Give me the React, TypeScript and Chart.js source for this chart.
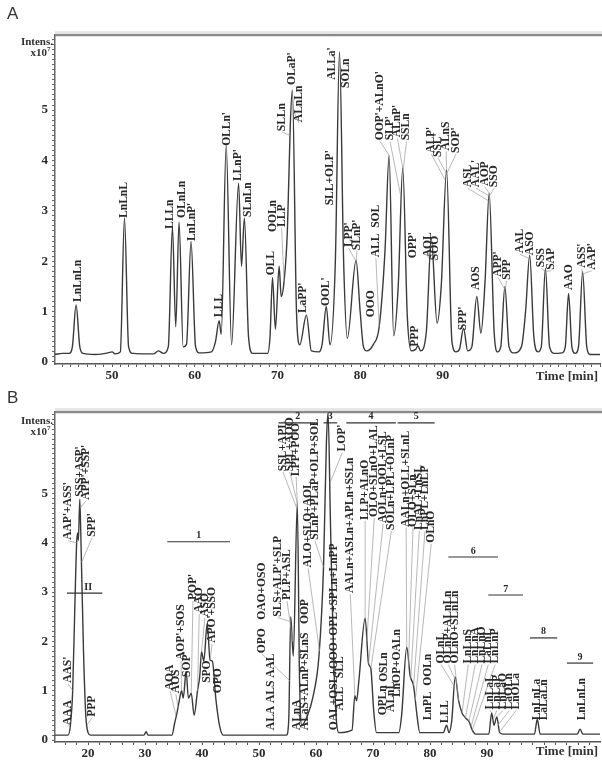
import React, { useEffect, useRef } from "react";
import { Chart, registerables } from "chart.js";

Chart.register(...registerables);

// ---------- Panel A trace (time [min], intensity x10^7) ----------
const timeA = [43.1, 44.0, 44.8, 45.2, 45.65, 46.1, 46.5, 48.0, 49.5, 50.0, 50.4, 51.0, 51.5, 52.0, 52.5, 55.0, 55.6, 56.2, 56.8, 57.3, 57.7, 58.1, 58.6, 59.0, 59.55, 60.1, 60.6, 62.0, 62.5, 62.95, 63.2, 63.8, 64.45, 65.3, 65.65, 66.0, 66.5, 67.0, 68.8, 69.1, 69.4, 69.75, 70.2, 70.45, 70.8, 71.2, 71.55, 71.8, 72.3, 72.7, 73.5, 74.1, 75.0, 75.4, 75.9, 76.35, 77.0, 77.5, 78.0, 78.45, 79.5, 80.0, 80.4, 80.8, 81.6, 82.3, 83.0, 83.5, 84.05, 84.6, 85.15, 85.7, 86.2, 86.7, 87.0, 87.3, 88.0, 88.6, 89.3, 89.8, 90.45, 91.1, 91.6, 92.0, 92.5, 93.0, 93.5, 94.1, 94.6, 95.1, 95.6, 96.2, 96.6, 97.0, 97.5, 98.0, 98.6, 99.5, 100.0, 100.5, 101.0, 101.5, 101.9, 102.4, 102.9, 103.5, 104.4, 104.8, 105.2, 105.6, 106.0, 106.4, 106.9, 107.4, 107.8, 109.0];
const intensityA = [0.15, 0.17, 0.17, 0.3, 1.13, 0.3, 0.17, 0.15, 0.18, 0.2, 0.16, 0.2, 2.86, 0.3, 0.17, 0.16, 0.22, 0.17, 0.3, 2.68, 0.7, 2.78, 0.3, 0.35, 2.39, 0.3, 0.18, 0.2, 0.4, 0.82, 0.55, 4.3, 0.34, 3.55, 1.9, 2.86, 0.5, 0.17, 0.17, 0.5, 1.68, 0.65, 1.9, 1.3, 1.6, 2.6, 4.7, 5.4, 1.0, 0.34, 0.93, 0.22, 0.2, 0.35, 1.1, 0.34, 2.0, 6.16, 2.0, 0.47, 2.02, 1.0, 0.3, 0.22, 0.35, 0.7, 2.2, 4.1, 0.52, 1.5, 3.85, 0.9, 0.22, 0.25, 0.32, 0.22, 0.6, 2.45, 0.77, 1.5, 3.81, 0.4, 0.2, 0.25, 0.67, 0.22, 0.3, 1.3, 0.57, 1.6, 3.35, 0.6, 0.2, 0.3, 1.5, 0.3, 0.18, 0.3, 1.0, 2.12, 0.5, 0.2, 0.3, 1.86, 0.3, 0.17, 0.18, 0.3, 1.36, 0.3, 0.17, 0.3, 1.79, 0.3, 0.15, 0.15];

// ---------- Panel B trace ----------
const timeB = [14.2, 16.5, 16.9, 17.3, 17.7, 18.0, 18.15, 18.3, 18.55, 18.8, 19.2, 19.6, 20.0, 20.4, 29.8, 30.2, 30.5, 34.7, 35.2, 35.6, 36.0, 36.4, 36.7, 37.2, 37.6, 38.1, 38.6, 39.2, 39.6, 39.9, 40.3, 40.9, 41.4, 41.8, 42.4, 43.1, 43.7, 54.8, 55.2, 55.55, 56.0, 56.7, 57.1, 57.5, 58.5, 59.5, 60.5, 61.3, 61.8, 62.1, 62.5, 63.0, 63.5, 64.0, 66.3, 66.8, 67.1, 67.5, 68.6, 69.2, 69.6, 70.1, 70.6, 74.5, 75.0, 75.9, 76.5, 77.1, 77.7, 78.2, 82.3, 82.9, 83.3, 83.8, 84.4, 85.0, 85.6, 86.2, 86.8, 87.4, 88.0, 90.3, 90.8, 91.2, 91.7, 92.2, 92.8, 98.3, 98.8, 99.3, 105.8, 106.3, 106.8, 109.8];
const intensityB = [0.1, 0.1, 0.3, 1.0, 2.8, 4.0, 4.2, 4.05, 4.88, 3.8, 1.8, 0.5, 0.15, 0.1, 0.1, 0.17, 0.1, 0.1, 0.35, 0.55, 0.8, 1.0, 0.85, 1.39, 0.85, 0.95, 0.5, 1.0, 1.3, 1.79, 1.6, 2.37, 1.62, 1.6, 0.85, 0.27, 0.1, 0.1, 0.4, 2.5, 1.7, 4.8, 1.2, 0.3, 0.5, 0.9, 1.7, 3.5, 6.0, 6.65, 4.5, 2.0, 0.5, 0.15, 0.2, 0.9, 0.8, 1.2, 2.47, 1.55, 1.45, 0.6, 0.15, 0.15, 0.5, 1.88, 1.3, 1.1, 0.5, 0.15, 0.15, 0.3, 0.15, 0.4, 1.28, 0.8, 0.55, 0.45, 0.38, 0.2, 0.12, 0.12, 0.55, 0.3, 0.47, 0.15, 0.12, 0.12, 0.42, 0.12, 0.12, 0.22, 0.12, 0.12];

// ---------- Tick labels ----------
const yTickLabels = [0, 1, 2, 3, 4, 5];
const xTickLabelsA = [50, 60, 70, 80, 90];
const xTickLabelsB = [20, 30, 40, 50, 60, 70, 80, 90];

// ---------- Peak labels, panel A ----------
const labelTextA = ["LnLnLn", "LnLnL", "LLLn", "OLnLn", "LnLnP'", "LLL", "OLLn'", "LLnP'", "SLnLn", "OLL", "OOLn", "LLP", "SLLn", "OLaP'", "ALnLn", "LaPP'", "OOL'", "SLL+OLP'", "ALLa'", "SOLn", "LPP'", "SLnP'", "OOO", "ALL  SOL", "OOP'+ALnO'", "SLP'", "ALnP'", "SSLn", "OPP'", "PPP", "AOL", "SOO", "ALP'", "SSL'", "ALnS", "SOP'", "SPP'", "AOS", "ASL", "AAL'", "AOP", "SSO", "APP'", "SPP", "AAL", "ASO", "SSS", "SAP", "AAO", "ASS'", "AAP'"];
const labelTimeA = [45.86, 51.49, 57.0, 58.45, 59.7, 62.9, 63.9, 65.2, 66.4, 69.2, 69.45, 70.5, 70.6, 71.75, 72.6, 73.1, 75.9, 76.3, 76.55, 78.3, 78.6, 79.6, 81.3, 81.9, 82.4, 83.6, 84.5, 85.6, 86.35, 86.6, 88.2, 89.1, 88.6, 89.4, 90.4, 91.6, 92.45, 94.0, 93.0, 94.0, 95.05, 96.2, 96.7, 97.7, 99.3, 100.5, 101.9, 103.1, 105.3, 106.8, 108.0];
const labelBaseA = [1.19, 2.86, 2.64, 2.86, 2.4, 0.89, 4.29, 3.59, 2.88, 1.72, 2.58, 2.68, 4.58, 5.5, 4.76, 0.97, 1.11, 3.11, 5.6, 5.44, 2.28, 2.22, 0.89, 2.08, 4.4, 4.4, 4.46, 4.4, 2.06, 0.3, 2.08, 2.02, 4.15, 4.07, 4.2, 4.15, 0.63, 1.43, 3.47, 3.47, 3.5, 3.47, 1.69, 1.63, 2.16, 2.12, 1.88, 1.83, 1.43, 1.87, 1.83];
const leaderTimeA = [null, null, null, null, null, null, null, null, null, null, null, 70.8, 71.5, null, 71.9, null, null, null, null, null, 79.5, 79.55, null, 82.3, 83.5, 84.9, 85.15, 85.2, null, null, 88.6, 88.65, 90.3, 90.4, 90.45, 90.5, null, null, 95.5, 95.55, 95.6, 95.65, 97.45, 97.55, 100.45, 100.5, 102.35, 102.45, null, 106.85, 106.95];
const leaderValueA = [null, null, null, null, null, null, null, null, null, null, null, 1.6, 4.5, null, 5.0, null, null, null, null, null, 2.0, 2.0, null, 0.7, 4.1, 3.3, 3.85, 3.8, null, null, 2.45, 2.4, 3.6, 3.75, 3.81, 3.75, null, null, 3.2, 3.3, 3.35, 3.3, 1.45, 1.45, 2.05, 2.1, 1.8, 1.8, null, 1.75, 1.75];

// ---------- Peak labels, panel B ----------
const labelTextB = ["AAA", "AAS'", "AAP'+ASS'", "SSS+ASP'", "APP'+SSP'", "SPP'", "PPP", "AOA", "AOS", "AOP'+SOS", "SOP'", "POP'", "AAO", "ASO", "APO'+SSO", "SPO", "OPO", "OPO   OAO+OSO", "ALA ALS AAL", "SLS+ALP'+SLP", "PLP+ASL", "SSL+APL", "SPL+AOO", "LPP+POO", "ALnA", "ALaS+ALnP+SLnS   OOP", "ALO+SLO+AOL", "SLnP+PLaP+OLP+SOL", "OAL+OSL+OOO+OPL+SPLn+LnPP", "ALL   SLL", "LOP'", "AALn+ASLn+APLn+SSLn", "LLP+ALnO", "OLO+SLnO+LAL", "AOLn+OOL+LSL", "SOLn+LPL+OLnP", "AALn+OLL+SLnL", "OLO+SLn", "LnAL+LnSL", "LnPL+LnLP", "OLnO", "OPLn", "OSLn", "ALnL", "LnOP+OALn", "LnPL  OOLn", "LLL", "OLnL", "OLnP+ALnLn", "OLnO+SLnLn", "LnLnS", "LnLnA", "LnLnO", "LaLnL", "LnLnP", "LnLaL", "LnLaP", "LnLaO", "LaOLn", "LnOLa", "LnLnLa", "LaLaLn", "LnLnLn"];
const labelTimeB = [16.5, 16.5, 16.5, 18.6, 19.65, 20.7, 20.7, 34.4, 35.4, 36.3, 37.4, 38.4, 39.5, 40.5, 41.75, 40.9, 42.8, 50.5, 52.1, 53.3, 54.9, 54.2, 55.4, 56.5, 56.7, 58.1, 58.6, 59.8, 63.2, 64.2, 64.6, 66.0, 68.6, 70.2, 71.75, 73.2, 75.8, 77.0, 78.1, 79.1, 80.2, 71.75, 71.9, 73.15, 74.2, 79.6, 82.6, 81.9, 83.2, 84.3, 86.7, 87.9, 89.1, 90.2, 91.4, 90.5, 91.7, 92.8, 93.9, 95.1, 98.8, 99.9, 106.7];
const labelBaseB = [0.3, 1.16, 4.06, 4.93, 4.87, 4.12, 0.47, 1.01, 0.95, 1.62, 1.28, 2.84, 2.58, 2.5, 1.97, 1.16, 0.95, 1.76, 0.2, 2.5, 2.84, 5.45, 5.45, 5.35, 0.2, 0.2, 3.5, 4.06, 0.2, 0.6, 5.85, 2.98, 4.46, 4.52, 4.4, 4.26, 4.32, 4.32, 4.26, 4.26, 4.0, 0.5, 1.18, 0.57, 0.87, 0.4, 0.34, 1.55, 1.55, 1.55, 1.55, 1.55, 1.55, 1.55, 1.55, 0.62, 0.62, 0.62, 0.62, 0.62, 0.4, 0.4, 0.4];
const leaderTimeB = [17.0, 17.3, 18.0, null, 18.6, 18.85, 19.8, 35.4, 35.8, 36.4, null, 38.1, 39.2, 39.9, 41.4, null, null, 55.4, null, 55.55, 55.9, 56.6, 56.7, 56.75, null, null, 60.6, 61.3, null, null, 62.4, 66.8, 68.6, 68.9, 69.2, 69.6, 75.9, 76.2, 76.6, 77.1, 77.4, null, null, null, null, null, null, 84.2, 84.5, 85.0, 85.6, 86.2, 86.8, 87.2, 87.4, 90.8, 91.0, 91.7, 91.9, 92.1, null, null, null];
const leaderValueB = [0.4, 1.0, 4.0, null, 4.7, 3.6, 0.3, 0.5, 0.65, 1.0, null, 0.95, 1.0, 1.79, 1.62, null, null, 1.2, null, 2.4, 2.0, 4.7, 4.8, 4.7, null, null, 1.8, 3.5, null, null, 5.2, 0.9, 2.47, 2.0, 1.55, 1.45, 1.88, 1.5, 1.25, 1.1, 0.8, null, null, null, null, null, null, 1.1, 1.2, 0.8, 0.55, 0.45, 0.38, 0.28, 0.2, 0.55, 0.4, 0.47, 0.3, 0.15, null, null, null];

// ---------- Peak-group bars, panel B ----------
const groupNameB = ["II", "1", "2", "3", "4", "5", "6", "7", "8", "9"];
const groupStartB = [16.3, 33.9, 53.4, 61.3, 65.3, 74.3, 83.2, 90.2, 97.5, 104.0];
const groupEndB = [22.5, 44.9, 60.2, 63.7, 74.0, 80.8, 91.9, 96.3, 102.3, 108.6];
const groupLevelB = [2.98, 4.02, 6.43, 6.43, 6.43, 6.43, 3.71, 2.94, 2.07, 1.56];

const SERIF = '"Liberation Serif", "DejaVu Serif", serif';
const INK = "#2a2a2a";

type Cfg = {
  letter: string;
  times: number[];
  values: number[];
  xMin: number;
  xMax: number;
  yMax: number;
  xStep: number;
  xLabels: number[];
  padTop: number;
  xAxisH: number;
  texts: string[];
  lt: number[];
  lb: number[];
  leadT: (number | null)[];
  leadV: (number | null)[];
  groups?: { name: string[]; start: number[]; end: number[]; level: number[] };
  introY: number;
  timeY: number;
};

function makeChart(canvas: HTMLCanvasElement, c: Cfg) {
  const decor = {
    id: "decor",
    afterDraw(chart: any) {
      const { ctx, chartArea, scales } = chart;
      const x = scales.x;
      const y = scales.y;
      ctx.save();
      // top border of frame
      ctx.strokeStyle = "#8a8a8a";
      ctx.lineWidth = 2.5;
      ctx.beginPath();
      ctx.moveTo(chartArea.left, chartArea.top);
      ctx.lineTo(chart.width, chartArea.top);
      ctx.stroke();
      ctx.strokeStyle = "#d0d0d0";
      ctx.lineWidth = 1;
      ctx.beginPath();
      ctx.moveTo(chartArea.left, chartArea.top - 3);
      ctx.lineTo(chart.width, chartArea.top - 3);
      ctx.stroke();

      // leader lines
      ctx.strokeStyle = "#9a9a9a";
      ctx.lineWidth = 0.7;
      c.texts.forEach((_, i) => {
        const tt = c.leadT[i];
        const vv = c.leadV[i];
        if (tt == null || vv == null) return;
        ctx.beginPath();
        ctx.moveTo(x.getPixelForValue(c.lt[i]), y.getPixelForValue(c.lb[i]) + 1);
        ctx.lineTo(x.getPixelForValue(tt), y.getPixelForValue(vv));
        ctx.stroke();
      });

      // rotated peak labels
      ctx.fillStyle = INK;
      ctx.font = `bold 11.5px ${SERIF}`;
      ctx.textAlign = "left";
      ctx.textBaseline = "middle";
      c.texts.forEach((t, i) => {
        ctx.save();
        ctx.translate(x.getPixelForValue(c.lt[i]), y.getPixelForValue(c.lb[i]));
        ctx.rotate(-Math.PI / 2);
        ctx.fillText(t, 0, 0);
        ctx.restore();
      });

      // group bars
      if (c.groups) {
        const g = c.groups;
        ctx.strokeStyle = "#333";
        ctx.lineWidth = 1.2;
        ctx.font = `bold 10px ${SERIF}`;
        ctx.textAlign = "center";
        ctx.textBaseline = "bottom";
        g.name.forEach((n, i) => {
          const py = y.getPixelForValue(g.level[i]);
          const x1 = x.getPixelForValue(g.start[i]);
          const x2 = x.getPixelForValue(g.end[i]);
          ctx.beginPath();
          ctx.moveTo(x1, py);
          ctx.lineTo(x2, py);
          ctx.stroke();
          const cx = n === "II" ? x1 + (x2 - x1) * 0.6 : (x1 + x2) / 2;
          ctx.fillText(n, cx, py - 1);
        });
      }

      // panel letter and axis titles
      ctx.fillStyle = "#333";
      ctx.textAlign = "left";
      ctx.textBaseline = "alphabetic";
      ctx.font = `17px "Liberation Sans", Arial, sans-serif`;
      ctx.fillText(c.letter, 7, 19);
      ctx.font = `bold 11px ${SERIF}`;
      ctx.textAlign = "right";
      ctx.fillText("Intens.", 53, c.introY);
      ctx.fillText("x10", 47, c.introY + 11);
      ctx.font = `bold 7px ${SERIF}`;
      ctx.textAlign = "left";
      ctx.fillText("7", 47, c.introY + 6);
      ctx.font = `bold 13px ${SERIF}`;
      ctx.textAlign = "right";
      ctx.textBaseline = "middle";
      ctx.fillText("Time [min]", 598, c.timeY);
      ctx.restore();
    },
  };

  return new Chart(canvas, {
    type: "line",
    data: {
      datasets: [
        {
          data: c.times.map((t, i) => ({ x: t, y: c.values[i] })),
          borderColor: "#3a3a3a",
          borderWidth: 1.4,
          pointRadius: 0,
          fill: false,
          cubicInterpolationMode: "monotone",
        },
      ],
    },
    options: {
      animation: false,
      responsive: false,
      maintainAspectRatio: false,
      layout: { padding: { top: c.padTop, right: 2, left: 0, bottom: 0 } },
      plugins: { legend: { display: false }, tooltip: { enabled: false } },
      scales: {
        x: {
          type: "linear",
          min: c.xMin,
          max: c.xMax,
          border: { color: "#555", width: 1.5 },
          grid: { drawOnChartArea: false, drawTicks: true, tickLength: 3, color: "#555" },
          ticks: {
            stepSize: c.xStep,
            maxTicksLimit: 500,
            autoSkip: false,
            maxRotation: 0,
            minRotation: 0,
            includeBounds: false,
            padding: 1,
            color: INK,
            font: { family: SERIF, weight: "bold", size: 13 },
            callback: (v: any) => (c.xLabels.includes(Math.round(v * 1000) / 1000) ? String(v) : ""),
          },
          afterFit: (s: any) => {
            s.height = c.xAxisH;
          },
        },
        y: {
          type: "linear",
          min: -0.04,
          max: c.yMax,
          border: { color: "#666", width: 1.5 },
          grid: { drawOnChartArea: false, drawTicks: true, tickLength: 3, color: "#666" },
          ticks: {
            stepSize: 0.1,
            maxTicksLimit: 500,
            autoSkip: false,
            includeBounds: false,
            padding: 4,
            color: INK,
            font: { family: SERIF, weight: "bold", size: 13 },
            callback: (v: any) => {
              const r = Math.round(v);
              return Math.abs(v - r) < 1e-6 && yTickLabels.includes(r) ? String(r) : "";
            },
          },
          afterFit: (s: any) => {
            s.width = 55;
          },
        },
      },
    },
    plugins: [decor],
  } as any);
}

export default function App() {
  const refA = useRef<HTMLCanvasElement>(null);
  const refB = useRef<HTMLCanvasElement>(null);

  useEffect(() => {
    const a = makeChart(refA.current!, {
      letter: "A",
      times: timeA,
      values: intensityA,
      xMin: 43.1,
      xMax: 109.0,
      yMax: 6.49,
      xStep: 1,
      xLabels: xTickLabelsA,
      padTop: 35,
      xAxisH: 20,
      texts: labelTextA,
      lt: labelTimeA,
      lb: labelBaseA,
      leadT: leaderTimeA,
      leadV: leaderValueA,
      introY: 45,
      timeY: 377,
    });
    const b = makeChart(refB.current!, {
      letter: "B",
      times: timeB,
      values: intensityB,
      xMin: 14.2,
      xMax: 109.8,
      yMax: 6.65,
      xStep: 2,
      xLabels: xTickLabelsB,
      padTop: 28,
      xAxisH: 18,
      texts: labelTextB,
      lt: labelTimeB,
      lb: labelBaseB,
      leadT: leaderTimeB,
      leadV: leaderValueB,
      groups: { name: groupNameB, start: groupStartB, end: groupEndB, level: groupLevelB },
      introY: 40,
      timeY: 368,
    });
    return () => {
      a.destroy();
      b.destroy();
    };
  }, []);

  return (
    <div style={{ position: "fixed", left: 0, top: 0, width: 602, height: 760, background: "#fff" }}>
      <canvas ref={refA} width={602} height={384} style={{ position: "absolute", left: 0, top: 0, display: "block" }} />
      <canvas ref={refB} width={602} height={376} style={{ position: "absolute", left: 0, top: 384, display: "block" }} />
    </div>
  );
}
